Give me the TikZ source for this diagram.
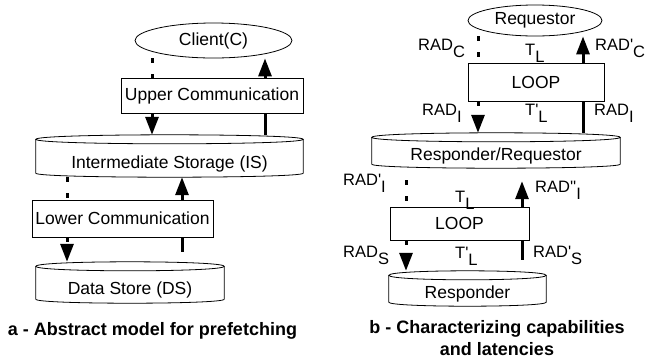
\documentclass[tikz,border=0pt]{standalone}
\usepackage{fontspec}
\setmainfont{Liberation Sans}
\usetikzlibrary{arrows.meta,shapes.geometric}
\newcommand{\lo}[1]{\raisebox{-7pt}{#1}}
\newcommand{\prm}{\textquotesingle}
\newcommand{\drum}[1]{%
  \draw[line width=0.8pt]
    ([yshift=-4.5pt]#1.north west) .. controls ([yshift=1.5pt]#1.north west) and ([yshift=1.5pt]#1.north east) .. ([yshift=-4.5pt]#1.north east)
    .. controls ([yshift=-10.5pt]#1.north east) and ([yshift=-10.5pt]#1.north west) .. cycle;
  \draw[line width=0.8pt]
    ([yshift=-4.5pt]#1.north west) -- ([yshift=4pt]#1.south west)
    .. controls ([yshift=-1.33pt]#1.south west) and ([yshift=-1.33pt]#1.south east) .. ([yshift=4pt]#1.south east)
    -- ([yshift=-4.5pt]#1.north east);
}
\begin{document}
\begin{tikzpicture}[x=1pt,y=-1pt,
    txt/.style={font=\fontsize{17.5}{21}\selectfont},
    box/.style={txt,draw,line width=0.8pt,inner sep=0pt},
    oval/.style={box,ellipse},
    drum/.style={txt,inner sep=0pt,text height=24pt,text depth=0pt},
    lbl/.style={font=\fontsize{16.5}{20}\selectfont,anchor=base west,inner sep=0pt},
    caption/.style={font=\fontsize{18}{22}\selectfont\bfseries,inner sep=0pt,align=center},
    req/.style={line width=3pt,dash pattern=on 5pt off 11pt},
    rsp/.style={line width=3pt},
    tip/.style={-{Triangle[width=13pt,length=18pt]}}]
  \useasboundingbox (0,0) rectangle (649,360);

  \node[oval,minimum width=157pt,minimum height=35pt] (client) at (213.5,40.5) {Client(C)};
  \node[box,minimum width=182pt,minimum height=35pt] (upper) at (212,95.5) {Upper Communication};
  \node[drum,minimum width=267pt,minimum height=42pt] (is) at (169.5,156) {Intermediate Storage (IS)};
  \node[box,minimum width=181pt,minimum height=37pt] (lower) at (122.5,218.5) {Lower Communication};
  \node[drum,minimum width=188pt,minimum height=41pt] (ds) at (130,282.5) {Data Store (DS)};
  \drum{is}
  \drum{ds}

  \node[oval,minimum width=134pt,minimum height=31pt] (req) at (535,20.5) {Requestor};
  \node[box,minimum width=136pt,minimum height=38pt] (loop1) at (536,82) {LOOP};
  \node[drum,text height=20pt,minimum width=248pt,minimum height=35pt] (rr) at (496,150.5) {Responder/Requestor};
  \node[box,minimum width=139pt,minimum height=33pt] (loop2) at (459.5,223.5) {LOOP};
  \node[drum,text height=20pt,minimum width=157pt,minimum height=35pt] (resp) at (467.5,288.5) {Responder};
  \drum{rr}
  \drum{resp}

  \coordinate (c1) at (152,0);
  \coordinate (c2) at (265,0);
  \coordinate (c3) at (67,0);
  \coordinate (c4) at (182,0);
  \coordinate (c5) at (478,0);
  \coordinate (c6) at (583,0);
  \coordinate (c7) at (406,0);
  \coordinate (c8) at (522,0);

  \draw[req] (client.south -| c1) -- (upper.north -| c1);
  \draw[req,tip] (upper.south -| c1) -- (is.north -| c1);
  \draw[rsp] (is.north -| c2) -- (upper.south -| c2);
  \draw[rsp,tip] (upper.north -| c2) -- (client.south -| c2);
  \draw[req] (is.south -| c3) -- (lower.north -| c3);
  \draw[req,tip] (lower.south -| c3) -- (ds.north -| c3);
  \draw[rsp,shorten <=10pt] (ds.north -| c4) -- (lower.south -| c4);
  \draw[rsp,tip] (lower.north -| c4) -- (is.south -| c4);

  \draw[req] (req.south -| c5) -- (loop1.north -| c5);
  \draw[req,tip] (loop1.south -| c5) -- (rr.north -| c5);
  \draw[rsp] (rr.north -| c6) -- (loop1.south -| c6);
  \draw[rsp,tip] (loop1.north -| c6) -- (req.south -| c6);
  \draw[req,shorten <=12pt] (rr.south -| c7) -- (loop2.north -| c7);
  \draw[req,tip] (loop2.south -| c7) -- (resp.north -| c7);
  \draw[rsp,shorten <=11pt] (resp.north -| c8) -- (loop2.south -| c8);
  \draw[rsp,tip,shorten >=13pt] (loop2.north -| c8) -- (rr.south -| c8);

  \node[lbl] (radc) at (418,50) {RAD\lo{C}};
  \node[lbl] (radcp) at (595,50) {RAD\prm\lo{C}};
  \node[lbl] (tl1) at (525,55) {T\lo{L}};
  \node[lbl] (radi1) at (422,115) {RAD\lo{I}};
  \node[lbl] (tlp1) at (525,115) {T\prm\lo{L}};
  \node[lbl] (radi2) at (594,115) {RAD\lo{I}};
  \node[lbl] (radip) at (343,185) {RAD\prm\lo{I}};
  \node[lbl] (tl2) at (455,202) {T\lo{L}};
  \node[lbl] (radipp) at (535,192) {RAD\prm\prm\lo{I}};
  \node[lbl] (rads) at (343,257) {RAD\lo{S}};
  \node[lbl] (tlp2) at (455,258) {T\prm\lo{L}};
  \node[lbl] (radsp) at (533,257) {RAD\prm\lo{S}};

  \node[caption,anchor=base] (capa) at (152.5,335) {a - Abstract model for prefetching};
  \node[caption,anchor=north] (capb) at (497,320) {b - Characterizing capabilities\\and latencies};
\end{tikzpicture}
\end{document}
